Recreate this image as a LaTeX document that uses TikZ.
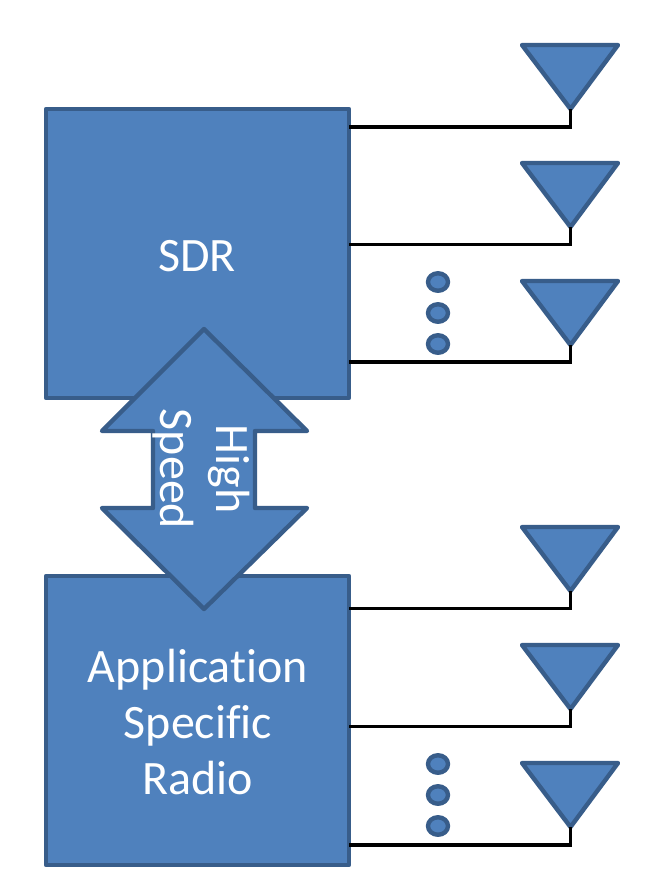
\documentclass[tikz,border=0pt]{standalone}
\usepackage{fontspec}
\setmainfont[Ligatures=CommonOff]{Carlito}
\usetikzlibrary{shapes.geometric}
\definecolor{bfill}{HTML}{4F81BD}
\definecolor{bline}{HTML}{385D8A}
\tikzset{
  bshape/.style={fill=bfill,draw=bline,line width=3.3pt,line join=round},
  radiobox/.style={bshape,rectangle,minimum width=303*0.75pt,minimum height=289*0.75pt,inner sep=0pt},
  wire/.style={draw=black,line width=2.4pt,line join=miter},
  vdot/.style={bshape,ellipse,minimum width=20*0.75pt,minimum height=17.5*0.75pt,inner sep=0pt},
  lbl/.style={text=white,font=\fontsize{36}{42}\selectfont,align=center,inner sep=0pt}
}
\newcommand{\antenna}[2]{% name, top y
  \coordinate (#1) at (570.5,#2+64);
  \path[bshape] (522,#2) -- (618,#2) -- (#1) -- cycle;
}
\begin{document}
\begin{tikzpicture}[x=0.75pt,y=-0.75pt]
\useasboundingbox (0,0) rectangle (646,890);
\fill[white] (0,0) rectangle (646,890);
% boxes
\node[radiobox] (sdr) at (197.5,253.5) {};
\node[lbl] (sdrtext) at (197,256) {SDR};
\node[radiobox] (asr) at (197.5,720.5) {};
\node[lbl] (asrtext) at (198,722) {Application\\Specific\\Radio};
% antennas
\antenna{a1}{45}
\antenna{a2}{163}
\antenna{a3}{281}
\antenna{b1}{527}
\antenna{b2}{645}
\antenna{b3}{763}
% connector ports
\coordinate (p1) at (349,127);
\coordinate (p2) at (349,244.5);
\coordinate (p3) at (349,362);
\coordinate (q1) at (349,608.5);
\coordinate (q2) at (349,726.5);
\coordinate (q3) at (349,845);
\draw[wire] (p1) -| (a1);
\draw[wire] (p2) -| (a2);
\draw[wire] (p3) -| (a3);
\draw[wire] (q1) -| (b1);
\draw[wire] (q2) -| (b2);
\draw[wire] (q3) -| (b3);
% dots
\foreach \n/\y in {d1/282,d2/313,d3/344,e1/764,e2/795,e3/826}
  \node[vdot] (\n) at (438,\y) {};
% double arrow
\path[bshape] (204,329) -- (307,431) -- (255,431) -- (255,508) -- (307,508) -- (204,609)
  -- (102,508) -- (153,508) -- (153,431) -- (102,431) -- cycle;
\node[lbl,rotate=-90] (speedtext) at (201,469) {High\\Speed};
\end{tikzpicture}
\end{document}
